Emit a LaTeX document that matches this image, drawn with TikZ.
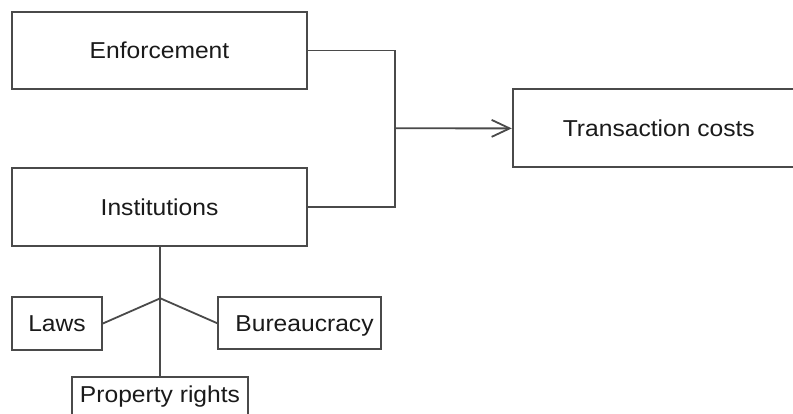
\documentclass[tikz,border=0pt]{standalone}
\usepackage{fontspec}
\setmainfont[FakeStretch=1.07]{Liberation Sans}
\usetikzlibrary{arrows.meta}
\definecolor{edge}{HTML}{4a4a4a}
\definecolor{ink}{HTML}{1a1a1a}
\begin{document}
\begin{tikzpicture}[x=1pt,y=-1pt,
  box/.style={draw=edge, line width=1.8pt, fill=white, text=ink,
    font=\fontsize{23}{27}\selectfont, inner sep=0pt, align=center,
    text height=16.5pt, text depth=0pt},
  link/.style={draw=edge, line width=1.8pt}]
\useasboundingbox (0,0) rectangle (793,414);
\clip (0,0) rectangle (793,414);

% main boxes
\node[box, minimum width=294.4pt, minimum height=77pt] (enf) at (159.5,50.5) {Enforcement};
\node[box, minimum width=294.4pt, minimum height=78pt] (inst) at (159.5,207) {Institutions};
\node[box, minimum width=292.3pt, minimum height=78pt] (tc) at (658.8,128.4) {Transaction costs};

% components of institutions
\node[box, minimum width=89.4pt, minimum height=52.7pt] (laws) at (57,323.6) {Laws};
\node[box, minimum width=162.4pt, minimum height=52pt] (bur) at (299.5,323.3) {\hspace*{10pt}Bureaucracy};
\node[box, minimum width=176.6pt, minimum height=50pt, text depth=15.4pt] (prop) at (160,401.7) {Property rights};

% junction points
\coordinate (m) at (395,128.3);
\coordinate (j) at (160.3,298.3);

% connectors
\draw[link] (enf.east) -| (m);
\draw[link] (inst.east) -| (m);
\draw[link, -{Straight Barb[length=18pt,width=17pt,line width=1.8pt]}] (m) -- (tc.west);
\draw[link] (inst.south -| j) -- (j) -- (prop.north -| j);
\draw[link] (j) -- (laws.east);
\draw[link] (j) -- (bur.west);
\end{tikzpicture}
\end{document}
